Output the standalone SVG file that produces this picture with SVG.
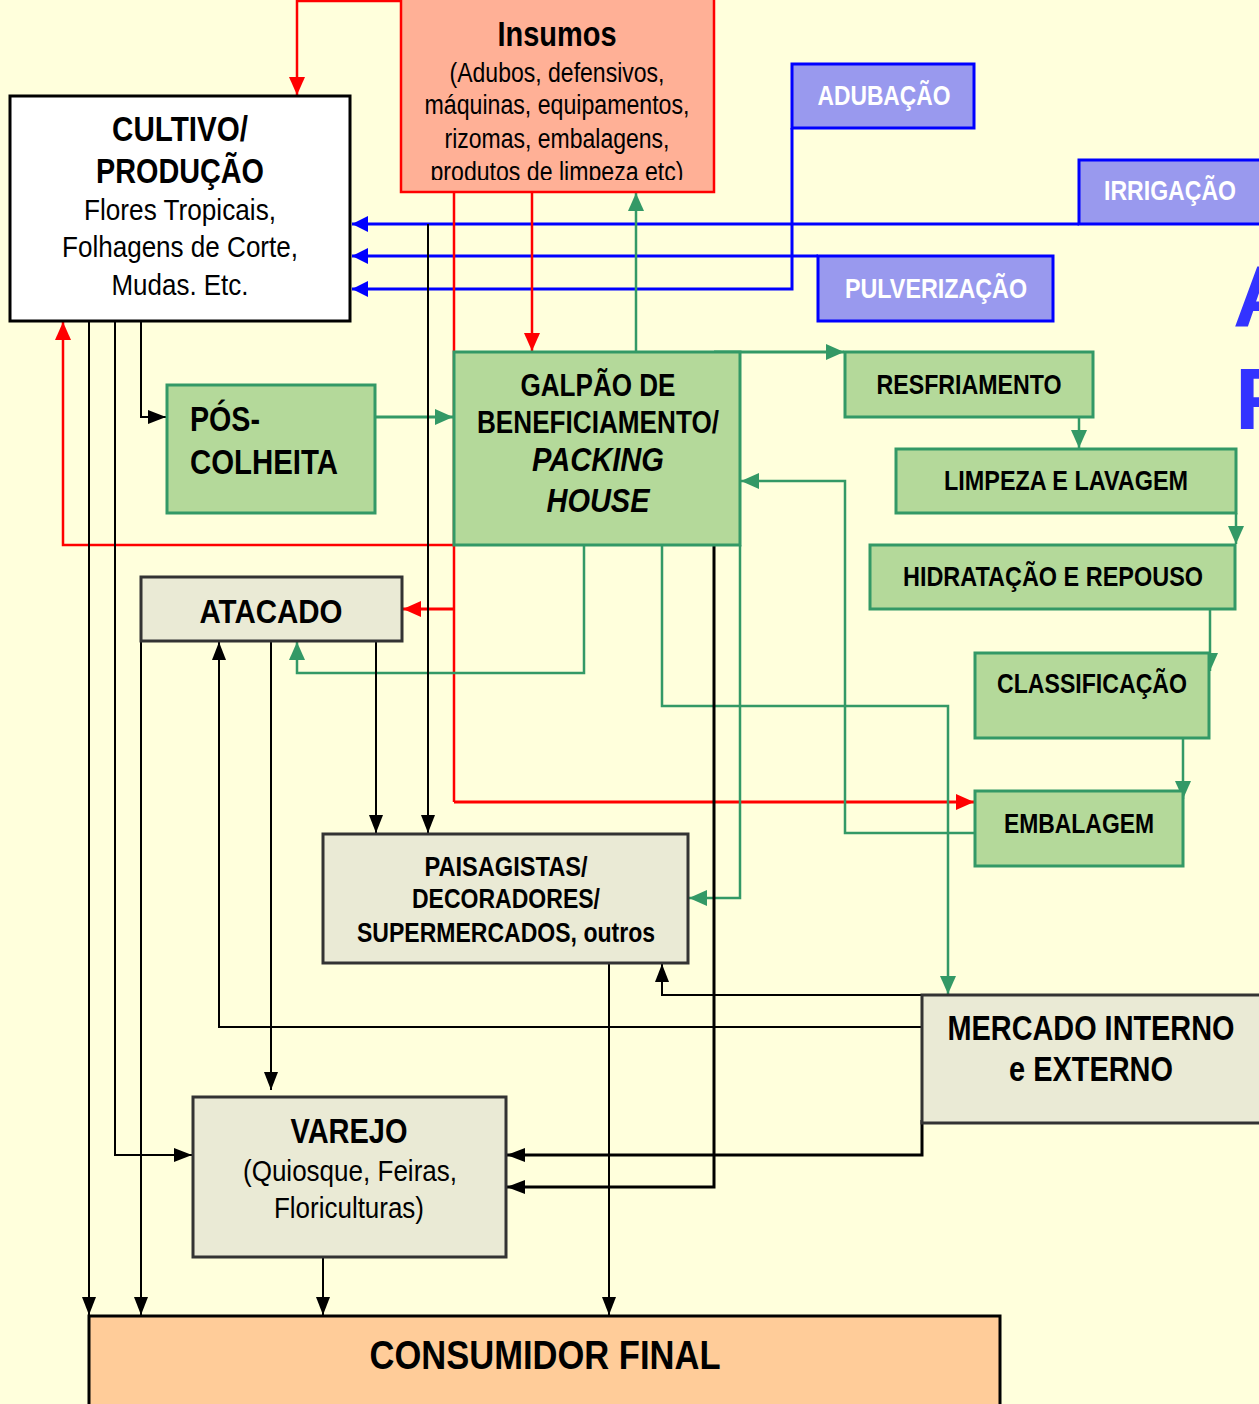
<svg xmlns="http://www.w3.org/2000/svg" width="1259" height="1404" viewBox="0 0 1259 1404">
<defs>
<style>
text{font-family:"Liberation Sans Narrow","Liberation Sans",Arial,sans-serif;text-anchor:middle;fill:#000}
.b{font-weight:bold}
.w{fill:#fff;font-weight:bold;font-size:28px}
.g{fill:#B4D99A;stroke:#339966;stroke-width:3}
.grey{fill:#EAEAD5;stroke:#333;stroke-width:3}
.blu{fill:#9999EE;stroke:#0000FF;stroke-width:3}
.cb{fill:none;stroke:#000;stroke-width:2}
.cr{fill:none;stroke:#FF0000;stroke-width:2.5}
.cg{fill:none;stroke:#339966;stroke-width:2.5}
.cu{fill:none;stroke:#0000FF;stroke-width:3}
</style>
<marker id="ak" markerUnits="userSpaceOnUse" markerWidth="18" markerHeight="14" refX="18" refY="7" orient="auto"><path d="M0,0 L18,7 L0,14 z" fill="#000"/></marker>
<marker id="ar" markerUnits="userSpaceOnUse" markerWidth="18" markerHeight="16" refX="18" refY="8" orient="auto"><path d="M0,0 L18,8 L0,16 z" fill="#FF0000"/></marker>
<marker id="ag" markerUnits="userSpaceOnUse" markerWidth="18" markerHeight="16" refX="18" refY="8" orient="auto"><path d="M0,0 L18,8 L0,16 z" fill="#339966"/></marker>
<marker id="au" markerUnits="userSpaceOnUse" markerWidth="16" markerHeight="16" refX="16" refY="8" orient="auto"><path d="M0,0 L16,8 L0,16 z" fill="#0000FF"/></marker>
<clipPath id="insclip"><rect x="401" y="0" width="313" height="180"/></clipPath>
</defs>
<rect x="0" y="0" width="1259" height="1404" fill="#FFFFDC"/>

<g id="title-fragment">
<text x="1233" y="326" class="b" style="text-anchor:start;fill:#3333FF;font-size:88px">A</text>
<text x="1235" y="429" class="b" style="text-anchor:start;fill:#3333FF;font-size:88px">F</text>
</g>

<g id="connectors">
<!-- blue -->
<path class="cu" d="M1079,224 H352" marker-end="url(#au)"/>
<path class="cu" d="M818,256 H352" marker-end="url(#au)"/>
<path class="cu" d="M792,128 V289 H352" marker-end="url(#au)"/>
<!-- red -->
<path class="cr" d="M401,1 H297 V95" marker-end="url(#ar)"/>
<path class="cr" d="M532,192 V351" marker-end="url(#ar)"/>
<path class="cr" d="M454,192 V802" />
<path class="cr" style="stroke-width:3" d="M454,802 H974" marker-end="url(#ar)"/>
<path class="cr" d="M454,545 H63 V322" marker-end="url(#ar)"/>
<path class="cr" style="stroke-width:3" d="M454,609 H403" marker-end="url(#ar)"/>
<!-- green -->
<path class="cg" d="M636,352 V193" marker-end="url(#ag)"/>
<path class="cg" style="stroke-width:3" d="M375,417 H453" marker-end="url(#ag)"/>
<path class="cg" style="stroke-width:3" d="M714,352 H844" marker-end="url(#ag)"/>
<path class="cg" d="M1079,417 V448" marker-end="url(#ag)"/>
<path class="cg" d="M1236,513 V544" marker-end="url(#ag)"/>
<path class="cg" d="M1210,609 V671" marker-end="url(#ag)"/>
<path class="cg" d="M1183,738 V799" marker-end="url(#ag)"/>
<path class="cg" d="M975,833 H845 V481 H741" marker-end="url(#ag)"/>
<path class="cg" d="M584,545 V673 H297 V642" marker-end="url(#ag)"/>
<path class="cg" d="M662,545 V706 H948 V994" marker-end="url(#ag)"/>
<path class="cg" d="M740,545 V898 H689" marker-end="url(#ag)"/>
<!-- black -->
<path class="cb" d="M141,321 V417 H166" marker-end="url(#ak)"/>
<path class="cb" d="M115,321 V1155 H192" marker-end="url(#ak)"/>
<path class="cb" d="M89,321 V1315" marker-end="url(#ak)"/>
<path class="cb" d="M428,224 V833" marker-end="url(#ak)"/>
<path class="cb" d="M376,641 V833" marker-end="url(#ak)"/>
<path class="cb" d="M271,641 V1090" marker-end="url(#ak)"/>
<path class="cb" d="M141,641 V1315" marker-end="url(#ak)"/>
<path class="cb" d="M922,1027 H219 V642" marker-end="url(#ak)"/>
<path class="cb" d="M922,995 H662 V964" marker-end="url(#ak)"/>
<path class="cb" style="stroke-width:3" d="M922,1120 V1155 H507" marker-end="url(#ak)"/>
<path class="cb" style="stroke-width:3" d="M714,545 V1187 H507" marker-end="url(#ak)"/>
<path class="cb" d="M609,963 V1315" marker-end="url(#ak)"/>
<path class="cb" d="M323,1250 V1315" marker-end="url(#ak)"/>
</g>

<g id="insumos">
<rect x="401" y="-3" width="313" height="195" fill="#FFB096" stroke="#FF0000" stroke-width="2.5"/>
<text x="557" y="46" class="b" font-size="35" textLength="119" lengthAdjust="spacingAndGlyphs">Insumos</text>
<g font-size="27" clip-path="url(#insclip)">
<text x="557" y="82" textLength="215" lengthAdjust="spacingAndGlyphs">(Adubos, defensivos,</text>
<text x="557" y="114" textLength="265" lengthAdjust="spacingAndGlyphs">máquinas, equipamentos,</text>
<text x="557" y="148" textLength="225" lengthAdjust="spacingAndGlyphs">rizomas, embalagens,</text>
<text x="557" y="181" textLength="253" lengthAdjust="spacingAndGlyphs">produtos de limpeza etc)</text>
</g>
</g>

<g id="cultivo">
<rect x="10" y="96" width="340" height="225" fill="#FFFFFF" stroke="#000" stroke-width="3"/>
<text x="180" y="141" class="b" font-size="35" textLength="136" lengthAdjust="spacingAndGlyphs">CULTIVO/</text>
<text x="180" y="183" class="b" font-size="35" textLength="168" lengthAdjust="spacingAndGlyphs">PRODUÇÃO</text>
<text x="180" y="220" font-size="29" textLength="192" lengthAdjust="spacingAndGlyphs">Flores Tropicais,</text>
<text x="180" y="257" font-size="29" textLength="236" lengthAdjust="spacingAndGlyphs">Folhagens de Corte,</text>
<text x="180" y="295" font-size="29" textLength="137" lengthAdjust="spacingAndGlyphs">Mudas. Etc.</text>
</g>

<g id="adubacao">
<rect class="blu" x="792" y="64" width="182" height="64"/>
<text x="884" y="105" class="w" textLength="133" lengthAdjust="spacingAndGlyphs">ADUBAÇÃO</text>
</g>
<g id="irrigacao">
<rect class="blu" x="1079" y="160" width="190" height="64"/>
<text x="1170" y="200" class="w" textLength="132" lengthAdjust="spacingAndGlyphs">IRRIGAÇÃO</text>
</g>
<g id="pulverizacao">
<rect class="blu" x="818" y="256" width="235" height="65"/>
<text x="936" y="298" class="w" textLength="182" lengthAdjust="spacingAndGlyphs">PULVERIZAÇÃO</text>
</g>

<g id="galpao">
<rect class="g" x="454" y="352" width="286" height="193"/>
<text x="598" y="396" class="b" font-size="31" textLength="155" lengthAdjust="spacingAndGlyphs">GALPÃO DE</text>
<text x="598" y="433" class="b" font-size="31" textLength="242" lengthAdjust="spacingAndGlyphs">BENEFICIAMENTO/</text>
<text x="598" y="471" class="b" font-size="33" font-style="italic" textLength="132" lengthAdjust="spacingAndGlyphs">PACKING</text>
<text x="598" y="512" class="b" font-size="33" font-style="italic" textLength="103" lengthAdjust="spacingAndGlyphs">HOUSE</text>
</g>

<g id="pos-colheita">
<rect class="g" x="167" y="385" width="208" height="128"/>
<text x="190" y="431" class="b" font-size="35" style="text-anchor:start" textLength="70" lengthAdjust="spacingAndGlyphs">PÓS-</text>
<text x="190" y="474" class="b" font-size="35" style="text-anchor:start" textLength="148" lengthAdjust="spacingAndGlyphs">COLHEITA</text>
</g>

<g id="resfriamento">
<rect class="g" x="845" y="352" width="248" height="65"/>
<text x="969" y="394" class="b" font-size="28" textLength="185" lengthAdjust="spacingAndGlyphs">RESFRIAMENTO</text>
</g>
<g id="limpeza">
<rect class="g" x="896" y="449" width="340" height="64"/>
<text x="1066" y="490" class="b" font-size="28" textLength="244" lengthAdjust="spacingAndGlyphs">LIMPEZA E LAVAGEM</text>
</g>
<g id="hidratacao">
<rect class="g" x="870" y="545" width="365" height="64"/>
<text x="1053" y="586" class="b" font-size="28" textLength="300" lengthAdjust="spacingAndGlyphs">HIDRATAÇÃO E REPOUSO</text>
</g>
<g id="classificacao">
<rect class="g" x="975" y="653" width="234" height="85"/>
<text x="1092" y="693" class="b" font-size="28" textLength="190" lengthAdjust="spacingAndGlyphs">CLASSIFICAÇÃO</text>
</g>
<g id="embalagem">
<rect class="g" x="975" y="791" width="208" height="75"/>
<text x="1079" y="833" class="b" font-size="28" textLength="150" lengthAdjust="spacingAndGlyphs">EMBALAGEM</text>
</g>

<g id="atacado">
<rect class="grey" x="141" y="577" width="261" height="64"/>
<text x="271" y="623" class="b" font-size="34" textLength="143" lengthAdjust="spacingAndGlyphs">ATACADO</text>
</g>

<g id="paisagistas">
<rect class="grey" x="323" y="834" width="365" height="129"/>
<text x="506" y="876" class="b" font-size="27" textLength="163" lengthAdjust="spacingAndGlyphs">PAISAGISTAS/</text>
<text x="506" y="908" class="b" font-size="27" textLength="188" lengthAdjust="spacingAndGlyphs">DECORADORES/</text>
<text x="506" y="942" class="b" font-size="27" textLength="298" lengthAdjust="spacingAndGlyphs">SUPERMERCADOS, outros</text>
</g>

<g id="mercado">
<rect class="grey" x="922" y="995" width="345" height="128"/>
<text x="1091" y="1040" class="b" font-size="35" textLength="287" lengthAdjust="spacingAndGlyphs">MERCADO INTERNO</text>
<text x="1091" y="1081" class="b" font-size="35" textLength="164" lengthAdjust="spacingAndGlyphs">e EXTERNO</text>
</g>

<g id="varejo">
<rect class="grey" x="193" y="1097" width="313" height="160"/>
<text x="349" y="1143" class="b" font-size="35" textLength="117" lengthAdjust="spacingAndGlyphs">VAREJO</text>
<text x="350" y="1181" font-size="29" textLength="214" lengthAdjust="spacingAndGlyphs">(Quiosque, Feiras,</text>
<text x="349" y="1218" font-size="29" textLength="150" lengthAdjust="spacingAndGlyphs">Floriculturas)</text>
</g>

<g id="consumidor">
<rect x="89" y="1316" width="911" height="100" fill="#FFCC99" stroke="#000" stroke-width="3"/>
<text x="545" y="1369" class="b" font-size="41" textLength="351" lengthAdjust="spacingAndGlyphs">CONSUMIDOR FINAL</text>
</g>
</svg>
